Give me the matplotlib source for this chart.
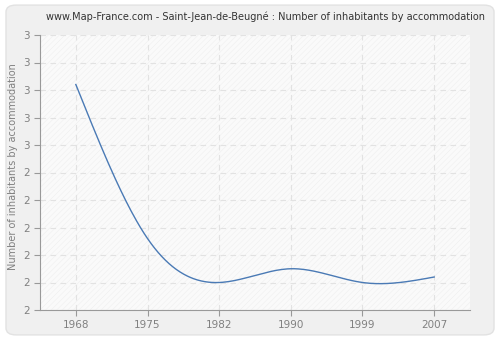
import numpy as np
import matplotlib
matplotlib.use("Agg")
import matplotlib.pyplot as plt
from matplotlib.patches import FancyBboxPatch, Rectangle
from matplotlib.ticker import FuncFormatter

# data
years = ["1968", "1975", "1982", "1990", "1999", "2007"]
values = [2.82, 2.26, 2.10, 2.15, 2.10, 2.12]
yticks = [2.0, 2.1, 2.2, 2.3, 2.4, 2.5, 2.6, 2.7, 2.8, 2.9, 3.0]


def natural_spline(x, y, n=40):
    # natural cubic spline, used only to draw the smooth line
    x = np.asarray(x, float)
    y = np.asarray(y, float)
    k = len(x)
    h = np.diff(x)
    A = np.zeros((k, k))
    b = np.zeros(k)
    A[0, 0] = A[-1, -1] = 1
    for i in range(1, k - 1):
        A[i, i - 1] = h[i - 1]
        A[i, i] = 2 * (h[i - 1] + h[i])
        A[i, i + 1] = h[i]
        b[i] = 3 * ((y[i + 1] - y[i]) / h[i] - (y[i] - y[i - 1]) / h[i - 1])
    c = np.linalg.solve(A, b)
    xs, ys = [], []
    for i in range(k - 1):
        t = np.linspace(0, h[i], n, endpoint=(i == k - 2))
        bb = (y[i + 1] - y[i]) / h[i] - h[i] * (2 * c[i] + c[i + 1]) / 3
        d = (c[i + 1] - c[i]) / (3 * h[i])
        xs.append(x[i] + t)
        ys.append(y[i] + bb * t + c[i] * t ** 2 + d * t ** 3)
    return np.concatenate(xs), np.concatenate(ys)


plt.rcParams["hatch.linewidth"] = 0.4
fig = plt.figure(figsize=(5, 3.4), dpi=100)
fig.patch.set_facecolor("white")
frame = FancyBboxPatch((0.012, 0.015), 0.976, 0.97,
                       boxstyle="round,pad=0,rounding_size=0.02",
                       transform=fig.transFigure, facecolor="#f0f0f0",
                       edgecolor="#e2e2e2", linewidth=1, zorder=-10)
fig.patches.append(frame)

ax = fig.add_axes([40 / 500, 30 / 340, 430 / 500, 275 / 340])
ax.set_facecolor("#fafafa")
ax.add_patch(Rectangle((0, 0), 1, 1, transform=ax.transAxes,
                       facecolor="none", edgecolor="#efefef",
                       hatch="//////", linewidth=0, zorder=0))

pos = np.arange(len(years))
sx, sy = natural_spline(pos, values)
ax.plot(sx, sy, color="#4a7ab5", linewidth=1, zorder=3)

ax.set_xlim(-0.5, 5.5)
ax.set_ylim(2.0, 3.0)
ax.set_xticks(pos)
ax.set_xticklabels(years)
ax.set_yticks(yticks)
ax.yaxis.set_major_formatter(FuncFormatter(lambda v, p: "%d" % round(v)))
ax.grid(True, color="#e2e2e2", linestyle=(0, (5, 4)), linewidth=0.8)
ax.set_axisbelow(True)

for s in ["top", "right"]:
    ax.spines[s].set_visible(False)
for s in ["left", "bottom"]:
    ax.spines[s].set_color("#999999")
ax.tick_params(colors="#999999", labelcolor="#808080", labelsize=7.5,
               length=4, width=0.8)
ax.set_ylabel("Number of inhabitants by accommodation", color="#808080",
              fontsize=7)
ax.yaxis.set_label_coords(-0.05, 0.52)

fig.text(0.532, 0.95, "www.Map-France.com - Saint-Jean-de-Beugné : Number of inhabitants by accommodation",
         ha="center", va="center", fontsize=7, color="#333333")

fig.savefig("out.png", dpi=100, facecolor=fig.get_facecolor())
